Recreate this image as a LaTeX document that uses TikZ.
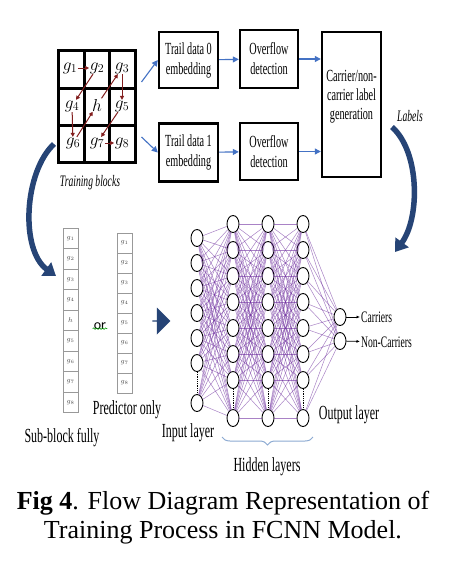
\documentclass[tikz,border=0pt]{standalone}
\usepackage{fontspec}
\setmainfont{Liberation Serif}
\newfontfamily\narrowfont[FakeStretch=0.6]{Liberation Serif}
\newfontfamily\calibrifont{Carlito}
\usetikzlibrary{arrows.meta,shapes.geometric,shapes.arrows,decorations.pathreplacing,decorations.pathmorphing}
\definecolor{flowblue}{RGB}{68,114,196}
\definecolor{darkarrow}{RGB}{38,68,118}
\definecolor{scanred}{RGB}{130,30,30}
\definecolor{netpurple}{RGB}{112,48,160}
\definecolor{bracecol}{RGB}{140,170,210}
\begin{document}
\begin{tikzpicture}[x=1pt,y=-1pt]
\tikzstyle{procbox}=[draw,line width=2.4pt,align=center,inner sep=1pt,font=\narrowfont\fontsize{17}{20}\selectfont]
\tikzstyle{flow}=[flowblue,line width=1.1pt,-{Triangle[length=6pt,width=6pt]}]
\tikzstyle{scan}=[scanred,line width=1pt,-{Triangle[length=4pt,width=4pt]}]
\tikzstyle{gl}=[inner sep=0.5pt,font=\fontsize{17}{17}\selectfont]
\tikzstyle{gcell}=[draw=gray!80,line width=0.7pt,minimum width=15pt,inner sep=0pt,font=\fontsize{7}{7}\selectfont,text=gray!60!black]
\tikzstyle{neuron}=[ellipse,draw,line width=0.9pt,fill=white,minimum width=12pt,minimum height=17pt,inner sep=0pt]
\tikzstyle{wire}=[netpurple,opacity=0.6,line width=0.5pt]
\tikzstyle{bigcurve}=[darkarrow,line width=5.5pt,-{Triangle[length=12pt,width=16pt]}]
\tikzstyle{lbl}=[inner sep=1pt,font=\narrowfont\fontsize{20}{22}\selectfont]
\tikzstyle{ital}=[inner sep=1pt,font=\narrowfont\itshape\fontsize{16}{18}\selectfont]

\useasboundingbox (0,0) rectangle (462,570);
\fill[white] (0,0) rectangle (462,570);

\node[draw,line width=3pt,minimum width=77pt,minimum height=112pt,inner sep=0pt] (grid) at (96.5,106) {};
\draw[line width=3pt] (84,50) -- (84,162) (109,50) -- (109,162) (58,88) -- (135,88) (58,125) -- (135,125);
\node[gl] (g1) at (70,68) {$g_1$};
\node[gl] (g2) at (97,68) {$g_2$};
\node[gl] (g3) at (122,68) {$g_3$};
\node[gl] (g4) at (72,106) {$g_4$};
\node[gl] (hh) at (97,105) {$h$};
\node[gl] (g5) at (122,106) {$g_5$};
\node[gl] (g6) at (73,143) {$g_6$};
\node[gl] (g7) at (97,143) {$g_7$};
\node[gl] (g8) at (122,143) {$g_8$};
\draw[scan] (g1) -- (g2);
\draw[scan] (g2) -- (g4);
\draw[scan] (g4) -- (g6);
\draw[scan] (g6) -- (hh);
\draw[scan] (hh) -- (g3);
\draw[scan] (g3) -- (g5);
\draw[scan] (g5) -- (g7);
\draw[scan] (g7) -- (g8);
\node[ital] (tb) at (90,183) {Training blocks};

\node[procbox,minimum width=59pt,minimum height=56pt] (trail0) at (188.5,60) {Trail data 0\\embedding};
\node[procbox,minimum width=59pt,minimum height=58pt] (trail1) at (188.5,152.5) {Trail data 1\\embedding};
\node[procbox,minimum width=58pt,minimum height=58pt] (over0) at (269,59) {Overflow\\detection};
\node[procbox,minimum width=58pt,minimum height=57pt] (over1) at (269,151.5) {Overflow\\detection};
\node[procbox,minimum width=59pt,minimum height=145pt] (carr) at (351.5,104.5) {};
\node[align=center,inner sep=0pt,font=\narrowfont\fontsize{17}{19}\selectfont] (carrtxt) at (351.5,97) {Carrier/non-\\carrier label\\generation};
\draw[flow] ([shift={(5,-24)}]grid.east) -- (trail0.west);
\draw[flow] ([shift={(5,31)}]grid.east) -- (trail1.west);
\draw[flow] (trail0) -- (over0);
\draw[flow] (trail1) -- (over1);
\draw[flow] (over0.east) -- (over0.east -| carr.west);
\draw[flow] (over1.east) -- (over1.east -| carr.west);
\node[ital] (lab) at (410,116) {Labels};
\draw[bigcurve] (54,144) .. controls (24,172) and (20,250) .. (56,276);
\draw[bigcurve] (392,127) .. controls (420,152) and (420,218) .. (395,252);

\foreach \t [count=\i from 0] in {g_1,g_2,g_3,g_4,h,g_5,g_6,g_7,g_8}
  \node[gcell,minimum height=20.5pt] (sb\i) at (70.5,238.25+20.5*\i) {$\t$};
\foreach \t [count=\i from 0] in {g_1,g_2,g_3,g_4,g_5,g_6,g_7,g_8}
  \node[gcell,minimum height=20pt] (pr\i) at (124.5,243+20*\i) {$\t$};
\node[inner sep=1pt,font=\calibrifont\fontsize{14}{14}\selectfont] (orw) at (100,326) {or};
\draw[green!60!black,line width=0.6pt,decorate,decoration={snake,amplitude=0.8pt,segment length=3pt}] ([yshift=2pt]orw.south west) -- ([yshift=2pt]orw.south east);
\node[lbl] (sbf) at (62,438) {Sub-block fully};
\node[lbl] (pred) at (127,410) {Predictor only};
\node[single arrow,fill=darkarrow,minimum height=18pt,minimum width=27pt,single arrow head extend=5pt,inner sep=0pt] (pipe) at (161,321) {};

\foreach \i in {1,...,6} \node[neuron] (in\i) at (197,213+25*\i) {};
\node[neuron] (in7) at (197,403) {};
\foreach \l/\x in {1/233,2/268,3/303} {
  \foreach \i in {1,...,7} \node[neuron] (h\l-\i) at (\x,198+26*\i) {};
  \node[neuron] (h\l-8) at (\x,418) {};
}
\node[neuron] (out1) at (340,317) {};
\node[neuron] (out2) at (340,341) {};
\foreach \i in {1,...,7} \foreach \j in {1,...,8} \draw[wire] (in\i) -- (h1-\j);
\foreach \a/\b in {1/2,2/3} \foreach \i in {1,...,8} \foreach \j in {1,...,8} \draw[wire] (h\a-\i) -- (h\b-\j);
\foreach \i in {1,...,8} \foreach \j in {1,2} \draw[wire] (h3-\i) -- (out\j);
\draw[densely dotted,line width=0.8pt] (in6) -- (in7);
\foreach \l in {1,2,3} \draw[densely dotted,line width=0.8pt] (h\l-7) -- (h\l-8);
\node[anchor=west,inner sep=1pt,font=\narrowfont\fontsize{16}{16}\selectfont] (car) at (360,317) {Carriers};
\node[anchor=west,inner sep=1pt,font=\narrowfont\fontsize{16}{16}\selectfont] (ncar) at (360,342) {Non-Carriers};
\draw[line width=0.8pt,-{Latex[length=3.5pt,width=3pt]}] (out1) -- (car);
\draw[line width=0.8pt,-{Latex[length=3.5pt,width=3pt]}] (out2) -- (ncar);
\node[lbl] (inl) at (188,433) {Input layer};
\node[lbl] (outl) at (349,415) {Output layer};
\draw[bracecol,line width=1pt,decorate,decoration={brace,amplitude=8pt,mirror}] (222,437) -- (313,437);
\node[lbl] (hid) at (267,467) {Hidden layers};

\node[align=center,inner sep=0pt,font=\fontsize{26}{29}\selectfont] (cap) at (223,518) {\textbf{Fig 4}. Flow Diagram Representation of\\Training Process in FCNN Model.};
\end{tikzpicture}
\end{document}
